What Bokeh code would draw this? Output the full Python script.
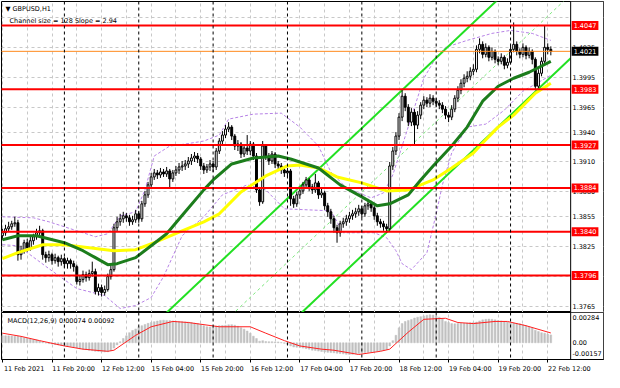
import numpy as np
from bokeh.plotting import figure
from bokeh.layouts import column
from bokeh.models import Range1d, FixedTicker, Span, Label, Grid, NumeralTickFormatter, BoxAnnotation
from bokeh.embed import file_html
from bokeh.resources import INLINE

# ---------------- data (GBPUSD, H1) ----------------
opens = [
 1.3836,1.3839,1.3843,1.3845,1.3848,1.3849,1.3817,1.3821,1.3829,1.3824,
 1.3831,1.3835,1.3839,1.3841,1.3817,1.3814,1.3817,1.3811,1.3814,1.3810,
 1.3813,1.3808,1.3811,1.3808,1.3805,1.3790,1.3792,1.3797,1.3794,1.3798,
 1.3800,1.3780,1.3784,1.3779,1.3782,1.3795,1.3802,1.3844,1.3850,1.3853,
 1.3856,1.3854,1.3850,1.3852,1.3858,1.3853,1.3868,1.3877,1.3887,1.3895,
 1.3899,1.3897,1.3900,1.3898,1.3901,1.3893,1.3899,1.3902,1.3905,1.3906,
 1.3908,1.3911,1.3914,1.3916,1.3913,1.3906,1.3902,1.3905,1.3908,1.3905,
 1.3921,1.3931,1.3937,1.3943,1.3945,1.3936,1.3926,1.3928,1.3918,1.3924,
 1.3921,1.3928,1.3916,1.3882,1.3870,1.3926,1.3916,1.3911,1.3918,1.3908,
 1.3906,1.3902,1.3899,1.3901,1.3873,1.3868,1.3877,1.3881,1.3887,1.3892,
 1.3885,1.3882,1.3889,1.3877,1.3879,1.3866,1.3860,1.3853,1.3844,1.3839,
 1.3848,1.3850,1.3853,1.3856,1.3858,1.3860,1.3863,1.3858,1.3866,1.3868,
 1.3864,1.3856,1.3850,1.3848,1.3845,1.3843,1.3906,1.3921,1.3936,1.3955,
 1.3976,1.3965,1.3950,1.3960,1.3947,1.3957,1.3967,1.3972,1.3969,1.3974,
 1.3971,1.3969,1.3967,1.3963,1.3957,1.3955,1.3963,1.3974,1.3982,1.3989,
 1.3994,1.3996,1.4001,1.4003,1.4023,1.4028,1.4018,1.4025,1.4015,1.4021,
 1.4013,1.4011,1.4015,1.4007,1.4010,1.4023,1.4028,1.4021,1.4018,1.4025,
 1.4017,1.4021,1.4013,1.3986,1.3999,1.4011,1.4025,1.4023]
highs = [
 1.3843,1.3847,1.3850,1.3851,1.3855,1.3852,1.3826,1.3832,1.3833,1.3835,
 1.3838,1.3843,1.3846,1.3843,1.3820,1.3821,1.3819,1.3818,1.3816,1.3817,
 1.3815,1.3814,1.3813,1.3811,1.3807,1.3796,1.3801,1.3800,1.3802,1.3810,
 1.3803,1.3788,1.3787,1.3786,1.3798,1.3806,1.3848,1.3855,1.3858,1.3860,
 1.3859,1.3857,1.3856,1.3862,1.3861,1.3871,1.3881,1.3890,1.3899,1.3903,
 1.3902,1.3904,1.3903,1.3905,1.3903,1.3902,1.3906,1.3909,1.3911,1.3912,
 1.3915,1.3918,1.3920,1.3919,1.3915,1.3909,1.3908,1.3912,1.3911,1.3924,
 1.3934,1.3941,1.3947,1.3950,1.3947,1.3938,1.3932,1.3930,1.3927,1.3937,
 1.3931,1.3930,1.3919,1.3885,1.3931,1.3928,1.3919,1.3921,1.3920,1.3911,
 1.3909,1.3905,1.3904,1.3903,1.3876,1.3880,1.3884,1.3890,1.3895,1.3894,
 1.3888,1.3898,1.3891,1.3883,1.3881,1.3869,1.3863,1.3856,1.3847,1.3851,
 1.3854,1.3857,1.3860,1.3862,1.3864,1.3867,1.3866,1.3869,1.3873,1.3871,
 1.3866,1.3859,1.3853,1.3851,1.3848,1.3910,1.3925,1.3940,1.3959,1.3982,
 1.3979,1.3968,1.3964,1.3963,1.3961,1.3970,1.3976,1.3975,1.3978,1.3977,
 1.3974,1.3972,1.3970,1.3966,1.3960,1.3967,1.3977,1.3986,1.3993,1.3998,
 1.4001,1.4005,1.4008,1.4027,1.4034,1.4031,1.4029,1.4027,1.4025,1.4023,
 1.4016,1.4019,1.4017,1.4014,1.4027,1.4050,1.4031,1.4024,1.4029,1.4027,
 1.4025,1.4023,1.4015,1.4003,1.4015,1.4047,1.4029,1.4026]
lows = [
 1.3832,1.3836,1.3840,1.3842,1.3845,1.3811,1.3812,1.3818,1.3820,1.3821,
 1.3827,1.3832,1.3836,1.3812,1.3809,1.3810,1.3807,1.3808,1.3805,1.3806,
 1.3804,1.3803,1.3803,1.3800,1.3787,1.3786,1.3789,1.3790,1.3791,1.3795,
 1.3777,1.3776,1.3775,1.3776,1.3780,1.3792,1.3800,1.3840,1.3846,1.3849,
 1.3850,1.3846,1.3847,1.3849,1.3849,1.3850,1.3865,1.3874,1.3884,1.3892,
 1.3893,1.3894,1.3895,1.3895,1.3884,1.3890,1.3896,1.3898,1.3901,1.3902,
 1.3904,1.3907,1.3910,1.3909,1.3902,1.3898,1.3899,1.3901,1.3900,1.3902,
 1.3918,1.3928,1.3934,1.3940,1.3932,1.3922,1.3921,1.3914,1.3915,1.3917,
 1.3917,1.3912,1.3879,1.3866,1.3868,1.3912,1.3907,1.3908,1.3904,1.3902,
 1.3898,1.3895,1.3895,1.3866,1.3864,1.3865,1.3873,1.3878,1.3884,1.3881,
 1.3878,1.3879,1.3873,1.3874,1.3862,1.3855,1.3848,1.3839,1.3829,1.3835,
 1.3844,1.3846,1.3849,1.3852,1.3854,1.3856,1.3854,1.3855,1.3862,1.3860,
 1.3852,1.3846,1.3844,1.3841,1.3839,1.3841,1.3902,1.3917,1.3932,1.3951,
 1.3961,1.3946,1.3946,1.3928,1.3943,1.3953,1.3963,1.3965,1.3965,1.3967,
 1.3965,1.3963,1.3959,1.3953,1.3950,1.3952,1.3960,1.3970,1.3978,1.3985,
 1.3990,1.3992,1.3997,1.4000,1.4019,1.4014,1.4015,1.4011,1.4012,1.4009,
 1.4007,1.4008,1.4003,1.4004,1.4008,1.4020,1.4017,1.4014,1.4015,1.4013,
 1.4014,1.4008,1.3982,1.3984,1.3996,1.4008,1.4018,1.4017]
closes = [
 1.3839,1.3843,1.3845,1.3848,1.3849,1.3817,1.3821,1.3829,1.3824,1.3831,
 1.3835,1.3839,1.3841,1.3817,1.3814,1.3817,1.3811,1.3814,1.3810,1.3813,
 1.3808,1.3811,1.3808,1.3805,1.3790,1.3792,1.3797,1.3794,1.3798,1.3800,
 1.3780,1.3784,1.3779,1.3782,1.3795,1.3802,1.3844,1.3850,1.3853,1.3856,
 1.3854,1.3850,1.3852,1.3858,1.3853,1.3868,1.3877,1.3887,1.3895,1.3899,
 1.3897,1.3900,1.3898,1.3901,1.3893,1.3899,1.3902,1.3905,1.3906,1.3908,
 1.3911,1.3914,1.3916,1.3913,1.3906,1.3902,1.3905,1.3908,1.3905,1.3921,
 1.3931,1.3937,1.3943,1.3945,1.3936,1.3926,1.3928,1.3918,1.3924,1.3921,
 1.3928,1.3916,1.3882,1.3870,1.3926,1.3916,1.3911,1.3918,1.3908,1.3906,
 1.3902,1.3899,1.3901,1.3873,1.3868,1.3877,1.3881,1.3887,1.3892,1.3885,
 1.3882,1.3889,1.3877,1.3879,1.3866,1.3860,1.3853,1.3844,1.3839,1.3848,
 1.3850,1.3853,1.3856,1.3858,1.3860,1.3863,1.3858,1.3866,1.3868,1.3864,
 1.3856,1.3850,1.3848,1.3845,1.3843,1.3906,1.3921,1.3936,1.3955,1.3976,
 1.3965,1.3950,1.3960,1.3947,1.3957,1.3967,1.3972,1.3969,1.3974,1.3971,
 1.3969,1.3967,1.3963,1.3957,1.3955,1.3963,1.3974,1.3982,1.3989,1.3994,
 1.3996,1.4001,1.4003,1.4023,1.4028,1.4018,1.4025,1.4015,1.4021,1.4013,
 1.4011,1.4015,1.4007,1.4010,1.4023,1.4028,1.4021,1.4018,1.4025,1.4017,
 1.4021,1.4013,1.3986,1.3999,1.4011,1.4025,1.4023,1.4021]

# moving averages (dark green, yellow), read at sample bars
ma_green_bars = [0,5,11,20,26,30,34,37,43,48,53,59,65,68,74,81,89,93,102,109,116,121,125,131,135,139,145,150,155,160,165,170,177]
ma_green_vals = [1.3832,1.3836,1.3836,1.3829,1.3821,1.3814,1.3807,1.3808,1.3814,1.3826,1.3838,1.3860,1.3882,1.3892,1.3908,1.3914,1.3916,1.3913,1.3904,1.3887,1.3875,1.3866,1.3868,1.3877,1.3892,1.3906,1.3926,1.3945,1.3971,1.3986,1.3994,1.4000,1.4011]
ma_yellow_bars = [0,5,13,20,28,36,43,49,58,65,70,77,85,92,96,102,108,116,124,131,139,145,152,155,160,165,172,177]
ma_yellow_vals = [1.3813,1.3819,1.3827,1.3827,1.3824,1.3821,1.3822,1.3829,1.3841,1.3850,1.3858,1.3880,1.3896,1.3906,1.3907,1.3904,1.3895,1.3889,1.3881,1.3882,1.3892,1.3904,1.3919,1.3929,1.3945,1.3957,1.3979,1.3989]

# Bollinger bands (violet dashed)
bb_up_bars = [0,10,15,24,30,34,38,43,46,49,54,59,65,70,73,81,90,96,102,106,111,119,123,126,129,136,140,143,150,158,164,171,177]
bb_up_vals = [1.3855,1.3854,1.3850,1.3841,1.3835,1.3838,1.3856,1.3860,1.3882,1.3916,1.3926,1.3928,1.3931,1.3937,1.3953,1.3958,1.3959,1.3945,1.3926,1.3900,1.3884,1.3874,1.3879,1.3897,1.3926,1.3994,1.4015,1.4025,1.4032,1.4039,1.4042,1.4039,1.4032]
bb_lo_bars = [0,5,15,24,33,38,43,48,52,58,65,71,79,85,91,106,110,120,124,127,129,132,137,140,142,145,150,156,162,168,177]
bb_lo_vals = [1.3827,1.3826,1.3803,1.3783,1.3776,1.3763,1.3766,1.3774,1.3795,1.3836,1.3855,1.3877,1.3887,1.3882,1.3863,1.3861,1.3839,1.3839,1.3834,1.3821,1.3808,1.3802,1.3819,1.3858,1.3887,1.3919,1.3945,1.3948,1.3962,1.3981,1.3997]

# linear regression channel (128 bars, slope 2.94)
chan_bars = [50, 183.4]
chan_mid = [1.3686, 1.4078]
chan_half = 0.0064

# horizontal levels
levels = [1.4047, 1.3983, 1.3927, 1.3884, 1.3840, 1.3796]
bid = 1.4021

# MACD(12,26,9)
macd_hist = [
 0.00067,0.00066,0.00065,0.00064,0.00062,0.00060,0.00055,0.00048,0.00042,0.00036,
 0.00030,0.00025,0.00018,0.00008,-0.00002,-0.00008,-0.00012,-0.00016,-0.00020,-0.00024,
 -0.00028,-0.00032,-0.00036,-0.00040,-0.00048,-0.00056,-0.00060,-0.00064,-0.00070,-0.00074,
 -0.00080,-0.00082,-0.00085,-0.00086,-0.00084,-0.00075,-0.00050,-0.00020,0.00010,0.00040,
 0.00065,0.00095,0.00115,0.00130,0.00150,0.00160,0.00172,0.00182,0.00190,0.00198,
 0.00204,0.00210,0.00212,0.00210,0.00208,0.00205,0.00202,0.00200,0.00198,0.00196,
 0.00194,0.00190,0.00185,0.00180,0.00172,0.00160,0.00150,0.00148,0.00150,0.00155,
 0.00160,0.00162,0.00165,0.00168,0.00170,0.00165,0.00155,0.00140,0.00128,0.00110,
 0.00090,0.00062,0.00040,0.00015,0.00020,0.00012,0.00010,0.00010,0.00008,0.00008,
 0.00002,-0.00005,-0.00015,-0.00030,-0.00040,-0.00042,-0.00045,-0.00050,-0.00055,-0.00060,
 -0.00070,-0.00072,-0.00078,-0.00082,-0.00086,-0.00090,-0.00092,-0.00094,-0.00098,-0.00100,
 -0.00104,-0.00108,-0.00110,-0.00108,-0.00104,-0.00100,-0.00096,-0.00092,-0.00090,-0.00086,
 -0.00084,-0.00080,-0.00076,-0.00070,-0.00062,-0.00030,0.00020,0.00070,0.00140,0.00180,
 0.00200,0.00210,0.00218,0.00232,0.00240,0.00245,0.00252,0.00258,0.00262,0.00260,
 0.00250,0.00240,0.00225,0.00200,0.00190,0.00180,0.00178,0.00180,0.00182,0.00182,
 0.00185,0.00188,0.00190,0.00195,0.00205,0.00215,0.00220,0.00222,0.00220,0.00215,
 0.00208,0.00205,0.00200,0.00195,0.00188,0.00185,0.00182,0.00178,0.00170,0.00160,
 0.00150,0.00140,0.00118,0.00105,0.00095,0.00090,0.00080,0.00074]
macd_sig_bars = [0,6,12,20,26,34,36,43,48,55,60,70,80,85,91,96,103,107,115,122,125,131,136,143,147,152,159,163,169,177]
macd_sig_vals = [0.0009,0.0006,0.0002,-0.0003,-0.0006,-0.0008,-0.0007,0.0007,0.0015,0.0020,0.0019,0.0015,0.0015,0.0009,0.0002,-0.0003,-0.0006,-0.0007,-0.0011,-0.0008,-0.0006,0.0010,0.0022,0.0023,0.0019,0.0018,0.0020,0.0020,0.0016,0.00092]

# axes
price_ticks = [1.3765, 1.3795, 1.3825, 1.3855, 1.3880, 1.3910, 1.3940, 1.3965, 1.3995, 1.4025, 1.4055]
time_ticks = [0, 16, 32, 48, 64, 80, 96, 112, 128, 144, 160, 176]
time_labels = ["11 Feb 2021", "11 Feb 20:00", "12 Feb 12:00", "15 Feb 04:00", "15 Feb 20:00", "16 Feb 12:00",
               "17 Feb 04:00", "17 Feb 20:00", "18 Feb 12:00", "19 Feb 04:00", "19 Feb 20:00", "22 Feb 12:00"]
grid_bars = list(range(0, 184, 8))
day_starts = [20, 44, 68, 92, 116, 140, 164]
macd_tick_vals = [0.00237, 0.0, -0.00101]
macd_tick_labels = ["0.00284", "0.00", "-0.00157"]

# ---------------- drawing ----------------
FONT = "DejaVu Sans"
FS = "6.5px"
FW = 602              # frame covers chart and price-label column
X0, XAX, X1 = -0.3, 183.4, 194.0   # chart start, price-axis line, frame end (bar units)
LABEL_OFF = -31       # price labels drawn inside the frame, right of the axis line
BB_COLOR = "#b783e6"
bars = np.arange(len(closes))
o = np.array(opens); c = np.array(closes); h = np.array(highs); l = np.array(lows)
up = c >= o

xr = Range1d(X0, X1)


def style_axis(ax, standoff=2, tick=3):
    ax.major_label_text_font = FONT
    ax.major_label_text_font_size = FS
    ax.major_label_text_color = "black"
    ax.major_label_standoff = standoff
    ax.major_tick_out = tick
    ax.major_tick_in = 0
    ax.minor_tick_out = 0
    ax.minor_tick_in = 0


p = figure(frame_width=FW, frame_height=311, x_range=xr, y_range=Range1d(1.3759, 1.4071),
           x_axis_type=None, y_axis_location="right", toolbar_location=None, output_backend="svg",
           min_border_left=1, min_border_right=1, min_border_top=1, min_border_bottom=0,
           outline_line_color="black", outline_line_width=1)
p.yaxis.ticker = FixedTicker(ticks=price_ticks)
p.yaxis.formatter = NumeralTickFormatter(format="0.0000")
p.yaxis.major_label_overrides = {1.4055: ""}
style_axis(p.yaxis[0], standoff=LABEL_OFF, tick=0)
p.yaxis.axis_line_color = None
p.ygrid.grid_line_color = "#c8c8c8"
p.ygrid.grid_line_dash = "3 3"
p.add_layout(Grid(dimension=0, ticker=FixedTicker(ticks=grid_bars), grid_line_color="#c8c8c8", grid_line_dash="3 3"))

for d in day_starts:
    p.add_layout(Span(location=d, dimension="height", line_color="black", line_dash="3 3", line_width=1))

# bollinger
p.line(bb_up_bars, bb_up_vals, line_color=BB_COLOR, line_dash="3 2", line_width=1)
p.line(bb_lo_bars, bb_lo_vals, line_color=BB_COLOR, line_dash="3 2", line_width=1)

# regression channel
cm = np.array(chan_mid)
p.line(chan_bars, cm + chan_half, line_color="#22e022", line_width=2)
p.line(chan_bars, cm - chan_half, line_color="#22e022", line_width=2)
p.line(chan_bars, cm, line_color="#7ee87e", line_width=1, line_dash="3 3")

# candles
p.segment(x0=bars, y0=l, x1=bars, y1=h, line_color="black", line_width=1)
p.vbar(x=bars[up], top=c[up], bottom=o[up], width=0.62, fill_color="white", line_color="black", line_width=1)
p.vbar(x=bars[~up], top=o[~up], bottom=c[~up], width=0.62, fill_color="black", line_color="black", line_width=1)

# moving averages
p.line(ma_yellow_bars, ma_yellow_vals, line_color="#ffff00", line_width=3)
p.line(ma_green_bars, ma_green_vals, line_color="#1c7d1c", line_width=3)

# price-label column: white background, axis line
p.add_layout(BoxAnnotation(left=XAX, fill_color="white", fill_alpha=1.0, line_color=None, level="glyph"))
p.add_layout(Span(location=XAX, dimension="height", line_color="black", line_width=1))

# levels
for lv in levels:
    r = p.segment(x0=[X0], y0=[lv], x1=[XAX], y1=[lv], line_color="#ff0000", line_width=2)
    r.level = "annotation"
rb = p.segment(x0=[X0], y0=[bid], x1=[XAX], y1=[bid], line_color="#ff8a1e", line_width=1)
rb.level = "annotation"
for lv in levels:
    p.add_layout(Label(x=XAX, y=lv, x_offset=1, text=f"{lv:.4f}",
                       text_font=FONT, text_font_size=FS, text_color="white",
                       text_align="left", text_baseline="middle",
                       background_fill_color="#ff0000", padding=2))
p.add_layout(Label(x=XAX, y=bid, x_offset=1, text=f"{bid:.4f}",
                   text_font=FONT, text_font_size=FS, text_color="white",
                   text_align="left", text_baseline="middle",
                   background_fill_color="black", padding=2))

p.add_layout(Label(x=4, y=304, x_units="screen", y_units="screen", text="\u25bc GBPUSD,H1",
                   text_font=FONT, text_font_size=FS, text_color="black", text_baseline="middle"))
p.add_layout(Label(x=8, y=292, x_units="screen", y_units="screen", text="Channel size = 128 Slope = 2.94",
                   text_font=FONT, text_font_size=FS, text_color="black", text_baseline="middle"))

# MACD panel
m = figure(frame_width=FW, frame_height=47, x_range=xr, y_range=Range1d(-0.00157, 0.00284),
           y_axis_location="right", toolbar_location=None, output_backend="svg",
           min_border_left=1, min_border_right=1, min_border_top=0, min_border_bottom=0,
           outline_line_color="black", outline_line_width=1)
m.vbar(x=bars, top=macd_hist, bottom=0, width=0.55, fill_color="#c0c0c0", line_color="#c0c0c0", line_width=0.5)
m.line(macd_sig_bars, macd_sig_vals, line_color="#ff2020", line_width=1)
m.ygrid.visible = False
m.xgrid.ticker = FixedTicker(ticks=grid_bars)
m.xgrid.grid_line_color = "#c8c8c8"
m.xgrid.grid_line_dash = "3 3"
for d in day_starts:
    m.add_layout(Span(location=d, dimension="height", line_color="black", line_dash="3 3", line_width=1))
m.add_layout(BoxAnnotation(left=XAX, fill_color="white", fill_alpha=1.0, line_color=None, level="glyph"))
m.add_layout(Span(location=XAX, dimension="height", line_color="black", line_width=1))
m.yaxis.ticker = FixedTicker(ticks=macd_tick_vals)
m.yaxis.major_label_overrides = {v: t for v, t in zip(macd_tick_vals, macd_tick_labels)}
style_axis(m.yaxis[0], standoff=LABEL_OFF, tick=0)
m.yaxis.axis_line_color = None
# time labels start at their bar (MT4 style): centre them half a label to the right,
# small tick marks stay at the bars themselves
time_label_pos = [t + 7 for t in time_ticks]
m.xaxis.ticker = FixedTicker(ticks=time_label_pos, minor_ticks=time_ticks)
m.xaxis.major_label_overrides = {v: t for v, t in zip(time_label_pos, time_labels)}
style_axis(m.xaxis[0], standoff=2, tick=0)
m.xaxis.minor_tick_out = 3
m.xaxis.minor_tick_line_color = "black"
m.xaxis.axis_line_color = "black"
m.add_layout(Label(x=6, y=39, x_units="screen", y_units="screen", text="MACD(12,26,9) 0.00074 0.00092",
                   text_font=FONT, text_font_size=FS, text_color="black", text_baseline="middle"))

layout = column(p, m, spacing=0)
open("out.html", "w").write(file_html(layout, INLINE))
